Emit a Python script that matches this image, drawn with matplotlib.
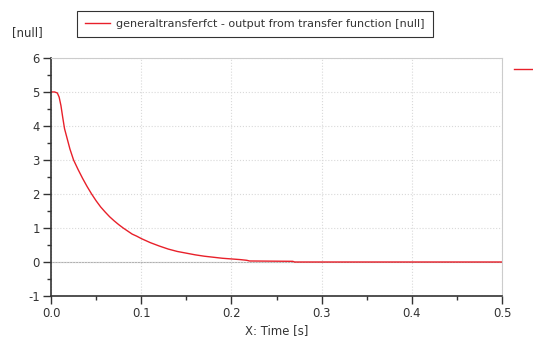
import matplotlib
matplotlib.use("Agg")
import matplotlib.pyplot as plt
from matplotlib.lines import Line2D
from matplotlib.ticker import MultipleLocator

# dados (tempo em s, saída do bloco)
tempo = [0.0, 0.004, 0.007, 0.009, 0.011, 0.013, 0.015, 0.018, 0.021, 0.025,
         0.03, 0.035, 0.04, 0.045, 0.05, 0.055, 0.06, 0.065, 0.07, 0.075,
         0.08, 0.085, 0.09, 0.095, 0.1, 0.11, 0.12, 0.13, 0.14, 0.15,
         0.16, 0.17, 0.18, 0.19, 0.2, 0.21, 0.217, 0.22, 0.268, 0.27, 0.5]
saida = [5.0, 5.0, 4.97, 4.85, 4.6, 4.25, 3.92, 3.62, 3.32, 3.0,
         2.72, 2.46, 2.22, 2.0, 1.8, 1.62, 1.47, 1.33, 1.21, 1.10,
         1.0, 0.91, 0.82, 0.76, 0.69, 0.57, 0.47, 0.38, 0.31, 0.26,
         0.21, 0.17, 0.14, 0.11, 0.09, 0.07, 0.05, 0.03, 0.02, 0.0, 0.0]

rotulo_serie = "generaltransferfct - output from transfer function [null]"
rotulo_x = "X: Time [s]"
rotulo_y = "[null]"

COR_LINHA = "#e8202a"
COR_GRADE = "#d9d9d9"

plt.rcParams["font.family"] = ["DejaVu Sans"]
plt.rcParams["font.size"] = 8.4
plt.rcParams["axes.unicode_minus"] = False

fig = plt.figure(figsize=(5.33, 3.45), dpi=100)
ax = fig.add_axes([0.0957, 0.142, 0.8463, 0.690])

ax.plot(tempo, saida, color=COR_LINHA, linewidth=1.0)
ax.axhline(0, color="#b0b0b0", linewidth=0.8, zorder=0)

ax.set_xlim(0, 0.5)
ax.set_ylim(-1, 6)
ax.xaxis.set_major_locator(MultipleLocator(0.1))
ax.xaxis.set_minor_locator(MultipleLocator(0.05))
ax.yaxis.set_major_locator(MultipleLocator(1))
ax.yaxis.set_minor_locator(MultipleLocator(0.5))
ax.set_xticklabels([f"{v:.1f}" for v in ax.get_xticks()])
ax.tick_params(which="major", direction="out", length=6, width=1, color="#333333",
               labelcolor="#333333", pad=2)
ax.tick_params(which="minor", direction="out", length=3, width=1, color="#333333")

ax.grid(True, which="major", color=COR_GRADE, linestyle=":", linewidth=0.8)
for lado in ("left", "bottom"):
    ax.spines[lado].set_color("#333333")
    ax.spines[lado].set_linewidth(1.2)
for lado in ("top", "right"):
    ax.spines[lado].set_color("#cccccc")
    ax.spines[lado].set_linewidth(0.8)

ax.set_xlabel(rotulo_x, color="#333333", labelpad=3)
fig.text(0.022, 0.905, rotulo_y, color="#333333", ha="left", va="center")

h = Line2D([], [], color=COR_LINHA, linewidth=1.0)
leg = fig.legend([h], [rotulo_serie], loc="upper left", bbox_to_anchor=(0.134, 0.985),
                 frameon=True, fancybox=False, edgecolor="black", handlelength=2.2,
                 borderpad=0.75, handletextpad=0.6, fontsize=8.0)
leg.get_frame().set_linewidth(0.8)
for t in leg.get_texts():
    t.set_color("#333333")

# marcador cortado à direita
fig.add_artist(Line2D([0.965, 1.0], [0.800, 0.800], color=COR_LINHA, linewidth=1.0))

fig.savefig("out.png", dpi=100)
